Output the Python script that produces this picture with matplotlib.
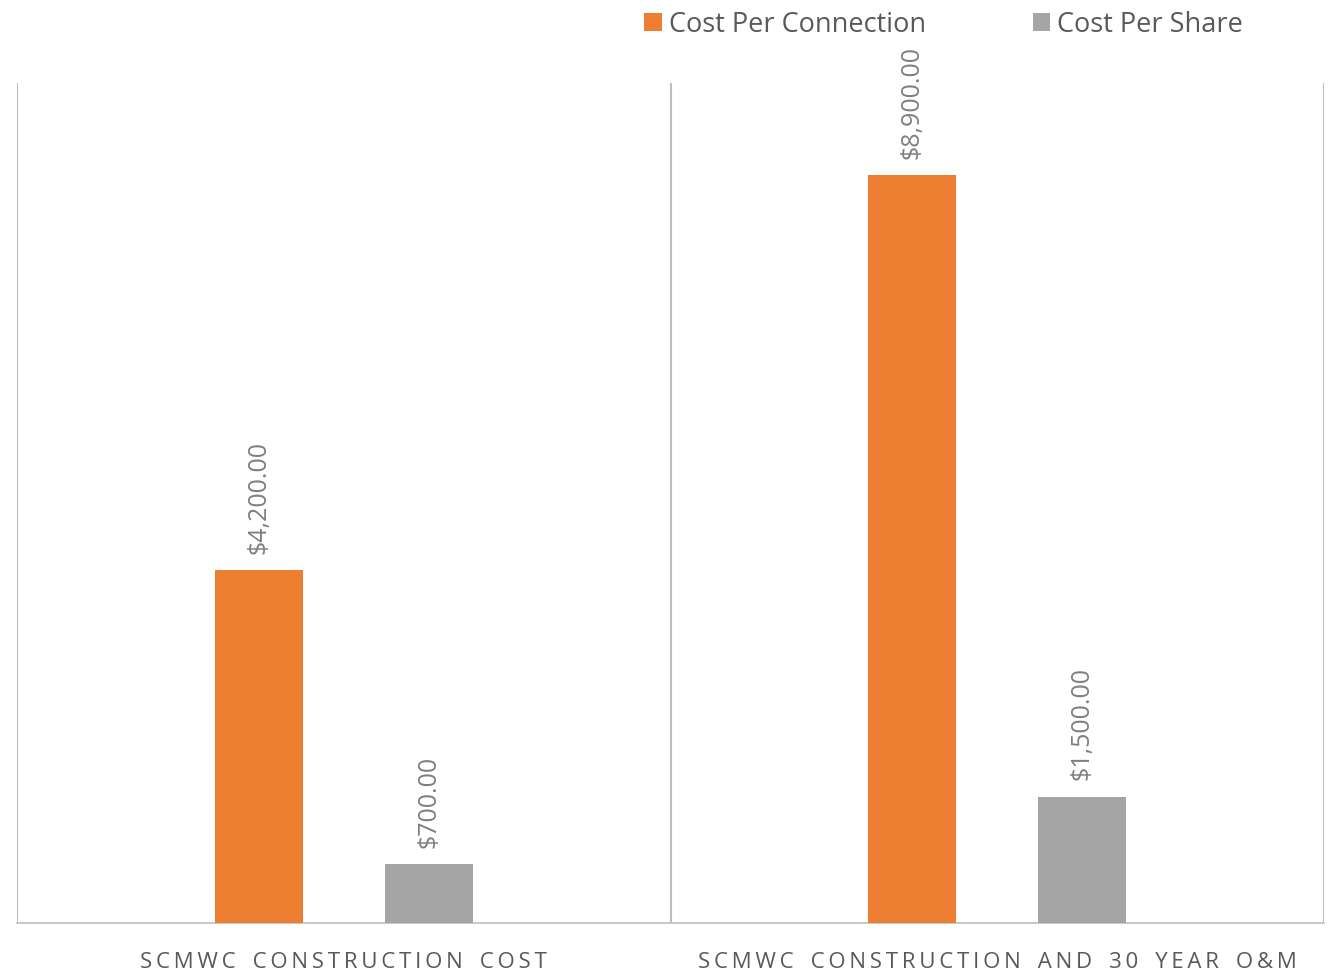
import matplotlib
matplotlib.use("Agg")
import matplotlib.pyplot as plt
import numpy as np

categories = ["SCMWC CONSTRUCTION COST", "SCMWC CONSTRUCTION AND 30 YEAR O&M"]
series_names = ["Cost Per Connection", "Cost Per Share"]
cost_per_connection = [4200, 8900]
cost_per_share = [700, 1500]
colors = ["#ED7D31", "#A5A5A5"]

plt.rcParams['font.family'] = ['Open Sans', 'DejaVu Sans']

fig = plt.figure(figsize=(13.36, 9.74), dpi=100)
ax = fig.add_axes([17/1336, 51/974, 1307/1336, 840/974])

x = np.arange(len(categories))
offset = 0.13
width = 0.135
for vals, name, col, off in [(cost_per_connection, series_names[0], colors[0], -offset),
                             (cost_per_share, series_names[1], colors[1], offset)]:
    bars = ax.bar(x + off, vals, width=width, color=col, label=name, zorder=3)
    for b, v in zip(bars, vals):
        ax.annotate(f"${v:,.2f}", (b.get_x() + b.get_width()/2, v),
                    xytext=(0, 12), textcoords="offset points",
                    rotation=90, ha="center", va="bottom",
                    fontsize=18, color="#7F7F7F")


def spaced(s):
    return "\u2009".join(s).replace("\u2009 \u2009", "\u2009 \u2009\u2009")

ax.set_xlim(-0.5, 1.5)
ax.set_ylim(0, 10000)
ax.set_yticks([])
ax.set_xticks(x)
ax.set_xticklabels([spaced(c) for c in categories], fontsize=16, color="#595959")
ax.tick_params(axis="x", length=0, pad=21)
for s in ["top", "right", "left"]:
    ax.spines[s].set_visible(False)
ax.spines["bottom"].set_color("#BFBFBF")
ax.spines["bottom"].set_linewidth(1.2)
for xv in [-0.5, 0.5, 1.5]:
    ax.axvline(xv, color="#BFBFBF", linewidth=1.5, zorder=1)

fig.legend(loc="upper left", bbox_to_anchor=(620/1336, 1.014), ncol=2,
           frameon=False, fontsize=19.5, handlelength=0.65, handleheight=0.65,
           handletextpad=0.25, columnspacing=3.95, labelcolor="#595959")

fig.savefig("out.png", dpi=100)
